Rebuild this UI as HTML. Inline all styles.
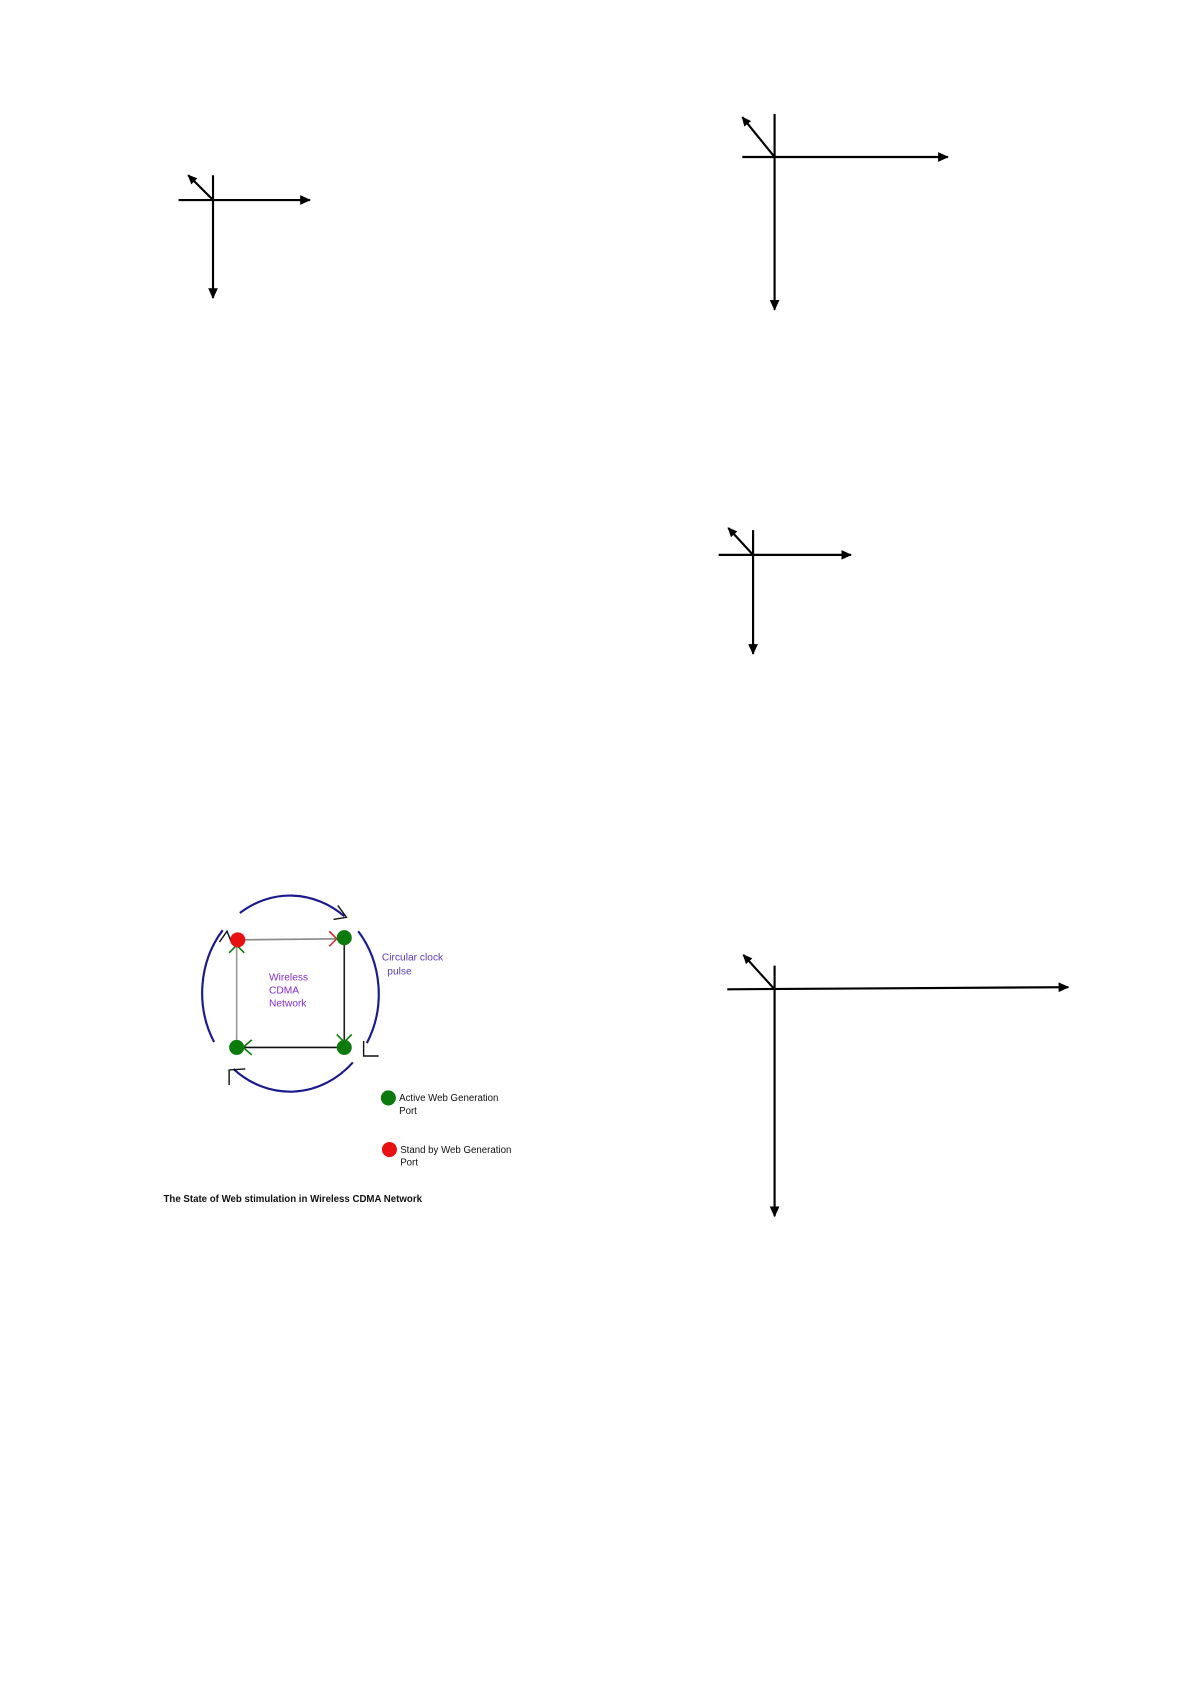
<!DOCTYPE html>
<html><head><meta charset="utf-8"><style>
html,body{margin:0;padding:0;background:#fff;}
svg{display:block;}
</style></head><body>
<svg width="1192" height="1684" viewBox="0 0 1108 1566" preserveAspectRatio="none" xmlns="http://www.w3.org/2000/svg" font-family="Liberation Sans, sans-serif">
<defs>
<marker id="ah" markerWidth="10" markerHeight="10" refX="9" refY="5" orient="auto" markerUnits="userSpaceOnUse">
<path d="M0,0.5 L10,5 L0,9.5 z" fill="#000"/></marker>
<marker id="ahs" markerWidth="9" markerHeight="9" refX="8" refY="4.5" orient="auto" markerUnits="userSpaceOnUse">
<path d="M0,0.5 L9,4.5 L0,8.5 z" fill="#000"/></marker>
</defs>
<g stroke="#000" stroke-width="2" fill="none">
<line x1="198" y1="163" x2="198" y2="277" marker-end="url(#ah)"/>
<line x1="166" y1="186" x2="288" y2="186" marker-end="url(#ah)"/>
<line x1="198" y1="186" x2="175" y2="163" marker-end="url(#ahs)"/>
<line x1="720" y1="106" x2="720" y2="288" marker-end="url(#ah)"/>
<line x1="690" y1="146" x2="881" y2="146" marker-end="url(#ah)"/>
<line x1="720" y1="146" x2="690" y2="109" marker-end="url(#ahs)"/>
<line x1="700" y1="493" x2="700" y2="608" marker-end="url(#ah)"/>
<line x1="668" y1="516" x2="791" y2="516" marker-end="url(#ah)"/>
<line x1="700" y1="516" x2="677" y2="491" marker-end="url(#ahs)"/>
<line x1="720" y1="898" x2="720" y2="1131" marker-end="url(#ah)"/>
<line x1="676" y1="920" x2="993" y2="918" marker-end="url(#ah)"/>
<line x1="720" y1="920" x2="691" y2="888" marker-end="url(#ahs)"/>
</g>
<g fill="none" stroke="#1a1a8c" stroke-width="2">
<path d="M223,849 A82,91 0 0 1 320,852"/>
<path d="M333,866 A82,91 0 0 1 341,970"/>
<path d="M328,988 A82,91 0 0 1 217,994"/>
<path d="M199,969 A82,91 0 0 1 207,865"/>
</g>
<g stroke="#111" stroke-width="1.3" fill="none">
<path d="M314,842 L322,853 L310,855"/>
<path d="M338,968 L338,982 L352,982"/>
<path d="M228,994 L213,995 L213,1009"/>
<path d="M204,876 L211,866 L215,876"/>
</g>
<g stroke-width="1.5" fill="none">
<line x1="221" y1="874" x2="316" y2="873" stroke="#888"/>
<line x1="320" y1="872" x2="320" y2="970" stroke="#222"/>
<line x1="320" y1="974" x2="224" y2="974" stroke="#111"/>
<line x1="220" y1="974" x2="220" y2="878" stroke="#999"/>
<path d="M306,866 L313,873 L306,880" stroke="#c33"/>
<path d="M313,962 L320,969 L327,962" stroke="#0a7a0a"/>
<path d="M234,967 L226,974 L234,981" stroke="#0a7a0a"/>
<path d="M213,886 L220,879 L227,886" stroke="#0a7a0a"/>
</g>
<circle cx="221" cy="874" r="7" fill="#e81010"/>
<circle cx="320" cy="872" r="7" fill="#0d7a0d"/>
<circle cx="220" cy="974" r="7" fill="#0d7a0d"/>
<circle cx="320" cy="974" r="7" fill="#0d7a0d"/>
<g fill="#8a2bd0" font-size="9.5">
<text x="250" y="912">Wireless</text>
<text x="250" y="924">CDMA</text>
<text x="250" y="936">Network</text>
</g>
<g fill="#5a3ab0" font-size="9.5">
<text x="355" y="893">Circular clock</text>
<text x="360" y="906">pulse</text>
</g>
<circle cx="361" cy="1021" r="7" fill="#0d7a0d"/>
<circle cx="362" cy="1069" r="7" fill="#e81010"/>
<g fill="#111" font-size="9">
<text x="371" y="1024">Active Web Generation</text>
<text x="371" y="1036">Port</text>
<text x="372" y="1072">Stand by Web Generation</text>
<text x="372" y="1084">Port</text>
<text x="152" y="1118" font-weight="bold" font-size="9">The State of  Web stimulation in Wireless CDMA Network</text>
</g>
</svg>
</body></html>
